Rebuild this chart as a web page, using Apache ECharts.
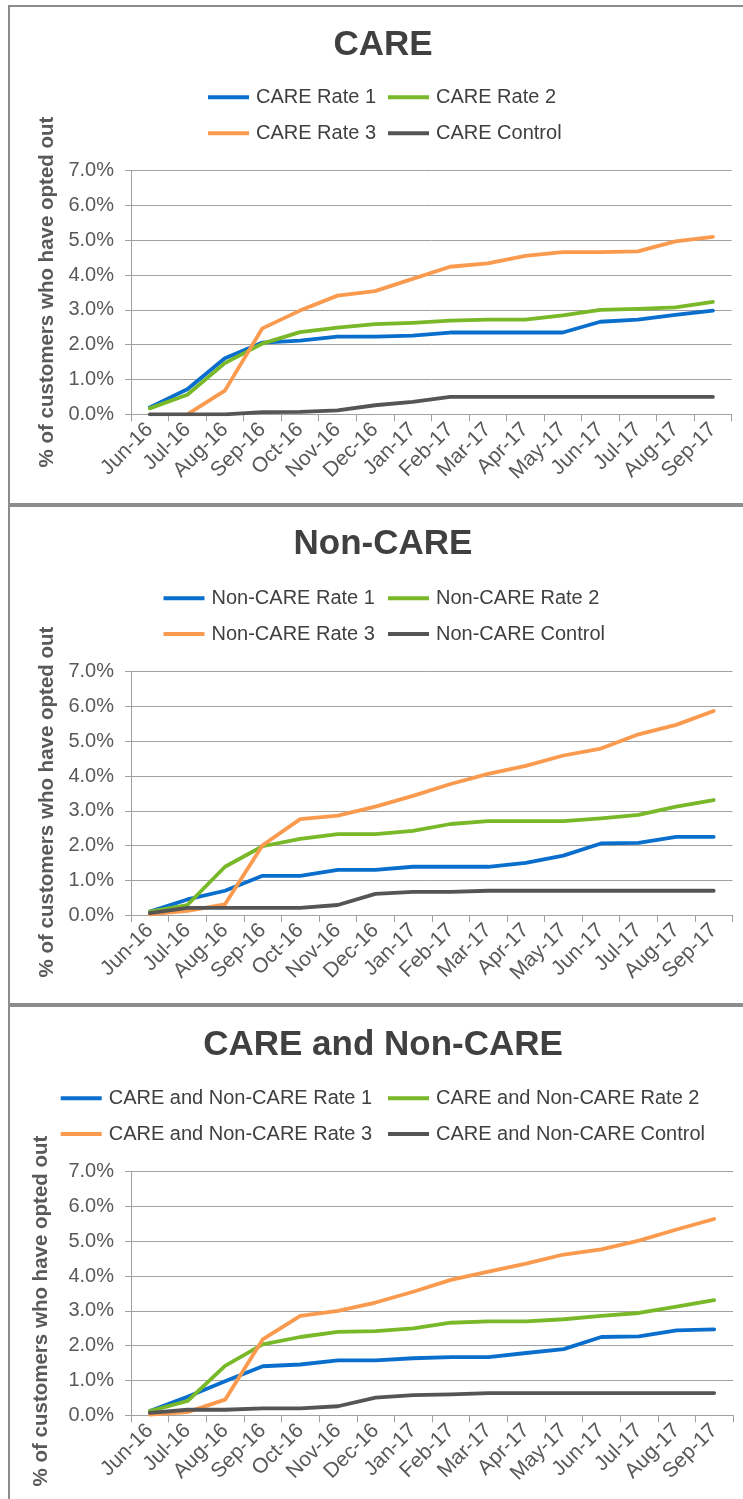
<!DOCTYPE html>
<html>
<head>
<meta charset="utf-8">
<script src="https://cdn.jsdelivr.net/npm/echarts@6/dist/echarts.min.js"></script>
<style>
html,body{margin:0;padding:0;background:#fff;}
#chart{width:743px;height:1499px;}
</style>
</head>
<body>
<div id="chart"></div>
<script>
// ---- data ----
const categories = ['Jun-16','Jul-16','Aug-16','Sep-16','Oct-16','Nov-16','Dec-16','Jan-17','Feb-17','Mar-17','Apr-17','May-17','Jun-17','Jul-17','Aug-17','Sep-17'];
const yAxisTitle = '% of customers who have opted out';

const panelTitles = ['CARE', 'Non-CARE', 'CARE and Non-CARE'];

const careNames = ['CARE Rate 1','CARE Rate 2','CARE Rate 3','CARE Control'];
const careRate1   = [0.20,0.72,1.61,2.06,2.12,2.23,2.23,2.26,2.35,2.35,2.35,2.35,2.66,2.72,2.86,2.98];
const careRate2   = [0.17,0.56,1.47,2.03,2.36,2.49,2.59,2.63,2.69,2.72,2.72,2.84,3.00,3.03,3.07,3.23];
const careRate3   = [null,0.00,0.68,2.47,2.98,3.41,3.54,3.89,4.24,4.34,4.55,4.66,4.66,4.68,4.97,5.10];
const careControl = [0.00,0.00,0.00,0.06,0.07,0.11,0.26,0.36,0.50,0.50,0.50,0.50,0.50,0.50,0.50,0.50];

const nonCareNames = ['Non-CARE Rate 1','Non-CARE Rate 2','Non-CARE Rate 3','Non-CARE Control'];
const nonCareRate1   = [0.10,0.45,0.70,1.13,1.13,1.30,1.30,1.39,1.39,1.39,1.50,1.71,2.06,2.08,2.25,2.25];
const nonCareRate2   = [0.10,0.29,1.39,1.98,2.19,2.33,2.33,2.42,2.62,2.70,2.70,2.70,2.78,2.88,3.12,3.31];
const nonCareRate3   = [0.02,0.12,0.31,2.01,2.76,2.86,3.12,3.43,3.77,4.06,4.29,4.59,4.79,5.20,5.47,5.87];
const nonCareControl = [0.06,0.21,0.21,0.21,0.21,0.29,0.61,0.67,0.67,0.70,0.70,0.70,0.70,0.70,0.70,0.70];

const allNames = ['CARE and Non-CARE Rate 1','CARE and Non-CARE Rate 2','CARE and Non-CARE Rate 3','CARE and Non-CARE Control'];
const allRate1   = [0.12,0.53,0.98,1.41,1.46,1.58,1.58,1.64,1.67,1.67,1.79,1.90,2.25,2.27,2.44,2.47];
const allRate2   = [0.12,0.41,1.42,2.04,2.25,2.40,2.42,2.50,2.66,2.70,2.70,2.76,2.86,2.94,3.12,3.31];
const allRate3   = [0.02,0.09,0.45,2.18,2.86,3.00,3.24,3.55,3.89,4.13,4.36,4.62,4.77,5.02,5.34,5.64];
const allControl = [0.07,0.16,0.16,0.20,0.20,0.26,0.51,0.58,0.60,0.64,0.64,0.64,0.64,0.64,0.64,0.64];

const yMin = 0, yMax = 7, yInterval = 1;

// ---- layout / style ----
const FONT = '"Liberation Sans", Arial, sans-serif';
const colors = ['#0A6FCC', '#78B829', '#FA9A4E', '#555555'];
const gridColor = '#a0a0a0';
const textColor = '#595959';

const panels = [
  { names: careNames, data: [careRate1, careRate2, careRate3, careControl],
    grid: {left:131, top:170.7, width:600.7, height:243.6},
    titleY: 23, legendCols:[208, 388], legendRows:[97.3, 133.3], yName:[47, 292] },
  { names: nonCareNames, data: [nonCareRate1, nonCareRate2, nonCareRate3, nonCareControl],
    grid: {left:131, top:671.7, width:601.5, height:243.4},
    titleY: 522, legendCols:[163.5, 388], legendRows:[598.3, 634], yName:[47, 802] },
  { names: allNames, data: [allRate1, allRate2, allRate3, allControl],
    grid: {left:131, top:1171.7, width:602, height:243.6},
    titleY: 1023, legendCols:[60.7, 388], legendRows:[1098.3, 1134], yName:[41, 1311] }
];

const option = {
  animation: false,
  backgroundColor: '#ffffff',
  title: [], legend: [], grid: [], xAxis: [], yAxis: [], series: [], graphic: []
};

panels.forEach((p, pi) => {
  option.title.push({
    text: panelTitles[pi], left: 378, top: p.titleY, textAlign: 'center',
    textStyle: { fontFamily: FONT, fontSize: 35, fontWeight: 'bold', color: '#404040' }
  });
  option.grid.push(Object.assign({containLabel:false}, p.grid));
  option.xAxis.push({
    type: 'category', gridIndex: pi, data: categories, boundaryGap: true,
    axisLine: { lineStyle: { color: gridColor, width: 1 } },
    axisTick: { show: true, length: 7, interval: 0, alignWithLabel: false, lineStyle: { color: gridColor } },
    axisLabel: { interval: 0, rotate: 45, margin: 12, fontSize: 21, color: textColor, fontFamily: FONT },
    splitLine: { show: false }
  });
  option.yAxis.push({
    type: 'value', gridIndex: pi, min: yMin, max: yMax, interval: yInterval,
    axisLine: { show: true, lineStyle: { color: gridColor, width: 1 } },
    axisTick: { show: true, length: 6, lineStyle: { color: gridColor } },
    splitLine: { show: true, lineStyle: { color: gridColor, width: 1 } },
    axisLabel: { formatter: v => v.toFixed(1) + '%', margin: 17, fontSize: 20, color: textColor, fontFamily: FONT }
  });
  p.names.forEach((nm, si) => {
    option.series.push({
      type: 'line', name: nm, xAxisIndex: pi, yAxisIndex: pi,
      data: p.data[si].map(v => v === null ? '-' : v),
      showSymbol: false, symbol: 'none', smooth: false, connectNulls: false,
      lineStyle: { color: colors[si], width: 3.8, cap: 'round', join: 'round' },
      itemStyle: { color: colors[si] }
    });
    const col = si % 2, row = Math.floor(si / 2);
    option.legend.push({
      data: [nm], left: p.legendCols[col] - 5, top: p.legendRows[row] - 15,
      icon: 'rect', itemWidth: 41, itemHeight: 4, itemGap: 0,
      selectedMode: false,
      textStyle: { fontFamily: FONT, fontSize: 20, color: '#404040', padding: [0,0,0,2] }
    });
  });
  option.graphic.push({
    type: 'text', x: p.yName[0], y: p.yName[1], rotation: Math.PI / 2, silent: true,
    style: { text: yAxisTitle, font: 'bold 20.5px ' + FONT, fill: textColor,
             align: 'center', verticalAlign: 'middle', textAlign: 'center', textVerticalAlign: 'middle' }
  });
});

// panel borders
const borderColor = '#8c8c8c';
[[8, 6, 743, 6, 2], [9, 5, 9, 1499, 2], [8, 505, 743, 505, 4], [8, 1005, 743, 1005, 4]].forEach(b => {
  option.graphic.push({ type: 'line', silent: true, shape: { x1: b[0], y1: b[1], x2: b[2], y2: b[3] },
    style: { stroke: borderColor, lineWidth: b[4] } });
});

const chart = echarts.init(document.getElementById('chart'), null, { renderer: 'canvas' });
chart.setOption(option);
</script>
</body>
</html>
